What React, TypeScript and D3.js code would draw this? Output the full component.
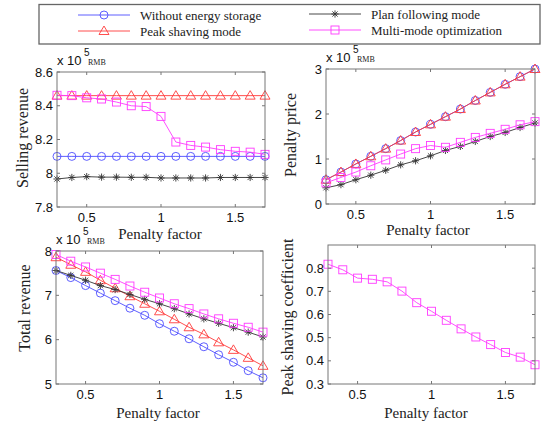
import React from 'react';
import * as d3 from 'd3';

// penalty factor on every panel
const penaltyFactor = [0.3, 0.4, 0.5, 0.6, 0.7, 0.8, 0.9, 1.0, 1.1, 1.2, 1.3, 1.4, 1.5, 1.6, 1.7];
const xTicks = [0.5, 1, 1.5];

const seriesNames = ['Without energy storage', 'Peak shaving mode', 'Plan following mode', 'Multi-mode optimization'];

// selling revenue, x 10^5 RMB
const sellWithout = [8.1, 8.1, 8.1, 8.1, 8.1, 8.1, 8.1, 8.1, 8.1, 8.1, 8.1, 8.1, 8.1, 8.1, 8.1];
const sellPeak = [8.46, 8.46, 8.46, 8.46, 8.46, 8.46, 8.46, 8.46, 8.46, 8.46, 8.46, 8.46, 8.46, 8.46, 8.46];
const sellPlan = [7.966, 7.975, 7.98, 7.977, 7.977, 7.976, 7.976, 7.972, 7.972, 7.972, 7.972, 7.975, 7.975, 7.975, 7.975];
const sellMulti = [8.462, 8.46, 8.447, 8.44, 8.422, 8.4, 8.395, 8.337, 8.185, 8.165, 8.155, 8.14, 8.13, 8.125, 8.112];

// penalty price, x 10^5 RMB
const penWithout = [0.54, 0.71, 0.89, 1.06, 1.23, 1.41, 1.6, 1.77, 1.94, 2.11, 2.3, 2.48, 2.66, 2.83, 3.0];
const penPeak = [0.54, 0.71, 0.89, 1.06, 1.23, 1.41, 1.6, 1.77, 1.94, 2.11, 2.3, 2.48, 2.66, 2.83, 3.0];
const penPlan = [0.36, 0.43, 0.54, 0.64, 0.75, 0.87, 0.96, 1.07, 1.19, 1.28, 1.39, 1.5, 1.59, 1.7, 1.8];
const penMulti = [0.47, 0.59, 0.71, 0.85, 0.98, 1.11, 1.23, 1.3, 1.26, 1.37, 1.48, 1.57, 1.66, 1.76, 1.83];

// total revenue, x 10^5 RMB
const totWithout = [7.56, 7.4, 7.22, 7.05, 6.88, 6.71, 6.55, 6.36, 6.19, 6.02, 5.84, 5.66, 5.49, 5.3, 5.14];
const totPeak = [7.86, 7.69, 7.53, 7.34, 7.16, 6.98, 6.81, 6.64, 6.46, 6.28, 6.12, 5.94, 5.77, 5.59, 5.41];
const totPlan = [7.56, 7.45, 7.34, 7.22, 7.13, 7.02, 6.91, 6.81, 6.7, 6.58, 6.47, 6.37, 6.27, 6.17, 6.06];
const totMulti = [7.92, 7.77, 7.64, 7.5, 7.36, 7.21, 7.07, 6.94, 6.81, 6.7, 6.58, 6.47, 6.37, 6.28, 6.17];

// peak shaving coefficient (multi-mode only)
const peakCoef = [0.817, 0.793, 0.757, 0.752, 0.741, 0.701, 0.651, 0.614, 0.575, 0.538, 0.503, 0.47, 0.436, 0.416, 0.383];

const colors = ['#4d4dff', '#ff3b3b', '#333333', '#ff3bff'];
const markers = ['circle', 'triangle', 'star', 'square'];

const serif = { fontFamily: "'Liberation Serif', 'Times New Roman', serif", fontWeight: 400 };
const sans = { fontFamily: "'Liberation Sans', Arial, sans-serif", fontWeight: 400 };

function Marker({ kind, x, y, color }) {
  if (kind === 'circle') return <circle cx={x} cy={y} r={4} fill="none" stroke={color} strokeWidth={0.9} />;
  if (kind === 'triangle') {
    const p = d3.path();
    p.moveTo(x, y - 5); p.lineTo(x + 5, y + 3.5); p.lineTo(x - 5, y + 3.5); p.closePath();
    return <path d={p.toString()} fill="none" stroke={color} strokeWidth={0.9} />;
  }
  if (kind === 'square') return <rect x={x - 4} y={y - 4} width={8} height={8} fill="none" stroke={color} strokeWidth={0.9} />;
  const s = 3.6, d = 2.6;
  return (
    <path d={`M${x - s},${y}L${x + s},${y}M${x},${y - s}L${x},${y + s}M${x - d},${y - d}L${x + d},${y + d}M${x - d},${y + d}L${x + d},${y - d}`}
      stroke={color} strokeWidth={0.9} fill="none" />
  );
}

function Panel({ box, yDomain, yTicks, series, yLabel, yLabelPos, xLabelPos, multiplier }) {
  const x = d3.scaleLinear().domain([0.3, 1.7]).range([box.left, box.right]);
  const y = d3.scaleLinear().domain(yDomain).range([box.bottom, box.top]);
  const line = d3.line().x((d, i) => x(penaltyFactor[i])).y(d => y(d));
  const tl = 3;
  return (
    <g>
      {series.map(s => (
        <g key={s.idx}>
          <path d={line(s.values)} fill="none" stroke={colors[s.idx]} strokeWidth={0.9} />
          {s.values.map((v, i) => (
            <Marker key={i} kind={markers[s.idx]} x={x(penaltyFactor[i])} y={y(v)} color={colors[s.idx]} />
          ))}
        </g>
      ))}
      <rect x={box.left} y={box.top} width={box.right - box.left} height={box.bottom - box.top} fill="none" stroke="#777" strokeWidth={1} />
      {xTicks.map(t => (
        <g key={t}>
          <line x1={x(t)} x2={x(t)} y1={box.bottom} y2={box.bottom - tl} stroke="#777" />
          <line x1={x(t)} x2={x(t)} y1={box.top} y2={box.top + tl} stroke="#777" />
          <text x={x(t)} y={box.bottom + 15} textAnchor="middle" style={sans} fontSize={13} fill="#111">{String(t)}</text>
        </g>
      ))}
      {yTicks.map(t => (
        <g key={t}>
          <line x1={box.left} x2={box.left + tl} y1={y(t)} y2={y(t)} stroke="#777" />
          <line x1={box.right} x2={box.right - tl} y1={y(t)} y2={y(t)} stroke="#777" />
          <text x={box.left - 4} y={y(t) + 4.5} textAnchor="end" style={sans} fontSize={13} fill="#111">{String(t)}</text>
        </g>
      ))}
      <text transform={`translate(${yLabelPos[0]},${yLabelPos[1]}) rotate(-90)`} textAnchor="middle"
        style={serif} fontSize={16} fill="#222">{yLabel}</text>
      <text x={xLabelPos[0]} y={xLabelPos[1]} textAnchor="middle" style={serif} fontSize={15} fill="#222">Penalty factor</text>
      {multiplier && (
        <g>
          <text x={box.left} y={box.top - 7} style={sans} fontSize={13} fill="#111">x 10</text>
          <text x={box.left + 27} y={box.top - 16} style={sans} fontSize={10} fill="#111">5</text>
          <text x={box.left + 31} y={box.top - 7} style={serif} fontSize={8} fill="#222">RMB</text>
        </g>
      )}
    </g>
  );
}

function Legend() {
  const rows = [
    { idx: 0, lx: 78, y: 15 },
    { idx: 1, lx: 78, y: 31 },
    { idx: 2, lx: 309, y: 14 },
    { idx: 3, lx: 309, y: 30 },
  ];
  return (
    <g>
      <rect x={39} y={4.5} width={501} height={39.5} fill="white" stroke="#666" strokeWidth={1.3} />
      {rows.map(r => (
        <g key={r.idx}>
          <line x1={r.lx} x2={r.lx + 52} y1={r.y} y2={r.y} stroke={colors[r.idx]} strokeWidth={0.9} />
          <Marker kind={markers[r.idx]} x={r.lx + 26} y={r.y} color={colors[r.idx]} />
          <text x={r.lx + 62} y={r.y + 4.5} style={serif} fontSize={13} fill="#222">{seriesNames[r.idx]}</text>
        </g>
      ))}
    </g>
  );
}

export default function App() {
  return (
    <svg width={555} height={423} style={{ position: 'absolute', left: 0, top: 0, background: 'white' }}>
      <Panel
        box={{ left: 57, right: 265, top: 72, bottom: 207 }}
        yDomain={[7.8, 8.6]} yTicks={[7.8, 8, 8.2, 8.4, 8.6]}
        series={[{ idx: 0, values: sellWithout }, { idx: 1, values: sellPeak }, { idx: 2, values: sellPlan }, { idx: 3, values: sellMulti }]}
        yLabel="Selling revenue" yLabelPos={[28, 138]} xLabelPos={[160, 239]} multiplier
      />
      <Panel
        box={{ left: 326, right: 535, top: 69, bottom: 204 }}
        yDomain={[0, 3]} yTicks={[0, 1, 2, 3]}
        series={[{ idx: 0, values: penWithout }, { idx: 1, values: penPeak }, { idx: 2, values: penPlan }, { idx: 3, values: penMulti }]}
        yLabel="Penalty price" yLabelPos={[296, 135]} xLabelPos={[428, 235]} multiplier
      />
      <Panel
        box={{ left: 56, right: 263, top: 251, bottom: 384 }}
        yDomain={[5, 8]} yTicks={[5, 6, 7, 8]}
        series={[{ idx: 0, values: totWithout }, { idx: 1, values: totPeak }, { idx: 2, values: totPlan }, { idx: 3, values: totMulti }]}
        yLabel="Total revenue" yLabelPos={[30, 308]} xLabelPos={[158, 418]} multiplier
      />
      <Panel
        box={{ left: 328, right: 535, top: 245, bottom: 384 }}
        yDomain={[0.3, 0.9]} yTicks={[0.3, 0.4, 0.5, 0.6, 0.7, 0.8]}
        series={[{ idx: 3, values: peakCoef }]}
        yLabel="Peak shaving coefficient" yLabelPos={[293, 317]} xLabelPos={[426, 418]}
      />
      <Legend />
    </svg>
  );
}
